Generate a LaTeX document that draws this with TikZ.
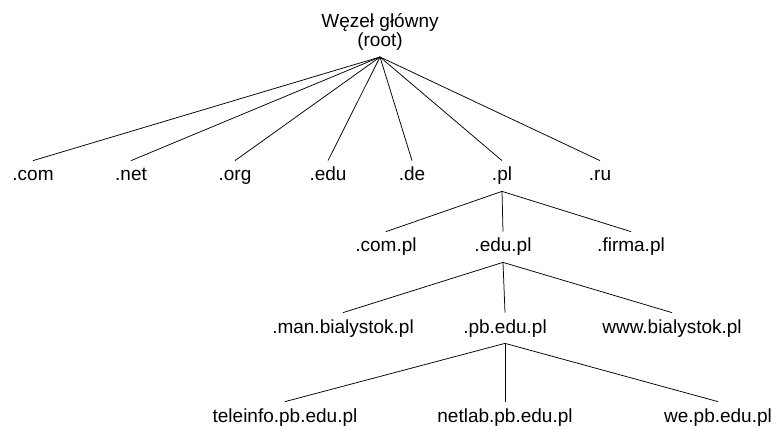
\documentclass[tikz,border=0pt]{standalone}
\usepackage{fontspec}
\setmainfont{Liberation Sans}
\usetikzlibrary{positioning}
\tikzset{%
	dom/.style    = {inner xsep=0pt, inner ysep=6pt, text height=14pt,
		text depth=4pt, anchor=base, font=\fontsize{19}{19.5}\selectfont},
	top/.style    = {inner xsep=0pt, inner ysep=6pt, text depth=4pt,
		align=center, anchor=south, font=\fontsize{19}{19.5}\selectfont}
}

\begin{document}
\begin{tikzpicture}[x=1pt, y=-1pt, line width=0.75pt]
          \def\ya{181};
          \def\yb{252};
          \def\yc{333};
          \def\yd{422};
          \useasboundingbox (0,0) rectangle (776,430);
        \draw
            node at (380,57)[top, name=root]{Węzeł główny\\(root)}

            node at (33,\ya)[dom, name=com]{.com}
            node at (131,\ya)[dom, name=net]{.net}
            node at (235,\ya)[dom, name=org]{.org}
            node at (328,\ya)[dom, name=edu]{.edu}
            node at (412,\ya)[dom, name=de]{.de}
            node at (502,\ya)[dom, name=pl]{.pl}
            node at (600,\ya)[dom, name=ru]{.ru}

            node at (386,\yb)[dom, name=compl]{.com.pl}
            node at (503,\yb)[dom, name=edupl]{.edu.pl}
            node at (631,\yb)[dom, name=firmapl]{.firma.pl}

            node at (343,\yc)[dom, name=man]{.man.bialystok.pl}
            node at (505,\yc)[dom, name=pbedu]{.pb.edu.pl}
            node at (672,\yc)[dom, name=www]{www.bialystok.pl}

            node at (285,\yd)[dom, name=teleinfo]{teleinfo.pb.edu.pl}
            node at (505,\yd)[dom, name=netlab]{netlab.pb.edu.pl}
            node at (718,\yd)[dom, name=we]{we.pb.edu.pl};

            \draw (root.south) -- (com.north);
            \draw (root.south) -- (net.north);
            \draw (root.south) -- (org.north);
            \draw (root.south) -- (edu.north);
            \draw (root.south) -- (de.north);
            \draw (root.south) -- (pl.north);
            \draw (root.south) -- (ru.north);

            \draw (pl.south) -- (compl.north);
            \draw (pl.south) -- (edupl.north);
            \draw (pl.south) -- (firmapl.north);

            \draw (edupl.south) -- (man.north);
            \draw (edupl.south) -- (pbedu.north);
            \draw (edupl.south) -- (www.north);

            \draw (pbedu.south) -- (teleinfo.north);
            \draw (pbedu.south) -- (netlab.north);
            \draw (pbedu.south) -- (we.north);
    \end{tikzpicture}
\end{document}
